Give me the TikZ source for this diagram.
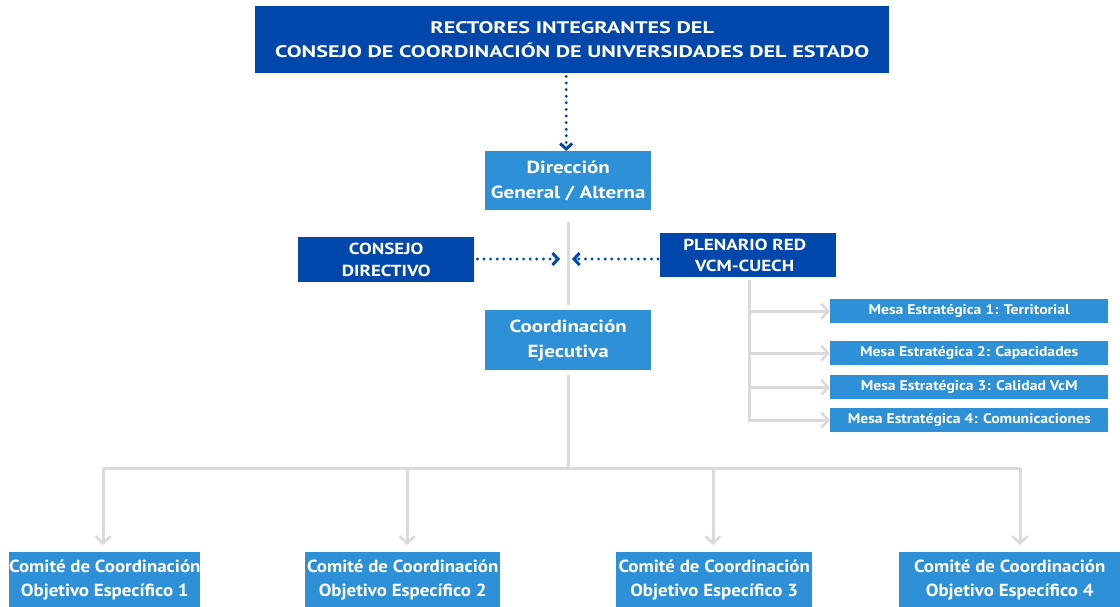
\documentclass[tikz,border=0pt]{standalone}
\usepackage{fontspec}
\setmainfont{PT Sans}
\newfontfamily\stA[FakeStretch=1.33]{PT Sans}
\newfontfamily\stB[FakeStretch=1.2]{PT Sans}
\newfontfamily\stC[FakeStretch=1.19]{PT Sans}
\newfontfamily\stD[FakeStretch=1.08]{PT Sans}
\newfontfamily\stE[FakeStretch=1.12]{PT Sans}
\usetikzlibrary{arrows.meta}
\definecolor{dblue}{HTML}{0047AB}
\definecolor{lblue}{HTML}{2E90D6}
\definecolor{lgray}{HTML}{DADADA}
\tikzset{
  dbox/.style={fill=dblue,text=white,align=center,inner sep=0pt,anchor=north west},
  lbox/.style={fill=lblue,text=white,align=center,inner sep=0pt,anchor=north west},
  dotarrow/.style={dblue,line width=3.2pt,line cap=round,dash pattern=on 0pt off 6.6pt,-{Straight Barb[length=5.5pt,width=12pt,line width=3pt]}},
  grayline/.style={lgray,line width=3pt},
  grayarrow/.style={lgray,line width=3pt,-{Straight Barb[length=7pt,width=15pt,line width=2.6pt]}},
}
\begin{document}
\begin{tikzpicture}[x=1pt,y=-1pt]
\useasboundingbox (0,0) rectangle (1120,607);
% boxes
\node[dbox,minimum width=634pt,minimum height=67pt,font=\stA\bfseries\fontsize{16.7}{24.5}\selectfont] (top) at (255,6)
  {RECTORES INTEGRANTES DEL\\CONSEJO DE COORDINACIÓN DE UNIVERSIDADES DEL ESTADO};
\node[lbox,minimum width=166pt,minimum height=59pt,font=\stB\bfseries\fontsize{17.5}{25}\selectfont] (dir) at (485,151)
  {Dirección\\General / Alterna};
\node[dbox,minimum width=176pt,minimum height=45pt,font=\stC\bfseries\fontsize{16}{22}\selectfont] (cons) at (298,237)
  {CONSEJO\\DIRECTIVO};
\node[dbox,minimum width=176pt,minimum height=44pt,font=\stC\bfseries\fontsize{16}{21}\selectfont] (plen) at (660,233)
  {\hspace*{-7pt}PLENARIO RED\\\hspace*{-7pt}VCM-CUECH};
\node[lbox,minimum width=166pt,minimum height=60pt,font=\stB\bfseries\fontsize{17.5}{25}\selectfont] (coord) at (485,310)
  {Coordinación\\Ejecutiva};
% mesas
\foreach \n/\y/\t in {1/299/Mesa Estratégica 1: Territorial,2/341/Mesa Estratégica 2: Capacidades,3/375/Mesa Estratégica 3: Calidad VcM,4/408/Mesa Estratégica 4: Comunicaciones}
  \node[lbox,minimum width=278pt,minimum height=24pt,font=\stE\bfseries\fontsize{14}{16}\selectfont] (m\n) at (830,\y) {\t};
% comites
\foreach \n/\x/\w in {1/9/184,2/305/195,3/616/196,4/899/221}
  \node[lbox,minimum width=\w pt,minimum height=56pt,font=\stD\bfseries\fontsize{17.5}{24}\selectfont] (c\n) at (\x,552)
  {Comité de Coordinación\\Objetivo Específico \n};
% connectors
\draw[dotarrow] (top.south) ++(-6,3) coordinate (a0) (a0) -- (dir.north -| a0);
\draw[grayline] ([yshift=-12pt]dir.south -| 568,0) -- ([yshift=5pt]coord.north -| 568,0);
\coordinate (mid) at (568,259);
\draw[dotarrow] ([xshift=3pt]cons.east |- mid) -- ([xshift=-8pt]mid);
\draw[dotarrow] ([xshift=-2pt]plen.west |- mid) -- ([xshift=4pt]mid);
\coordinate (hub) at (568,468);
\draw[grayline] ([yshift=-5pt]coord.south -| hub) -- (hub);
\draw[grayline] (103,468) -- (1020,468);
\foreach \n/\x in {1/103,2/407,3/713,4/1020}
  \draw[grayarrow] (\x,468) -- (\x,545);
\coordinate (pv) at (749,280);
\draw[grayline] (pv) -- (749,421.5);
\foreach \n in {1,2,3,4}
  \draw[grayarrow] (m\n.west -| pv) ++(-1.5,0) -- (m\n.west);
\end{tikzpicture}
\end{document}
